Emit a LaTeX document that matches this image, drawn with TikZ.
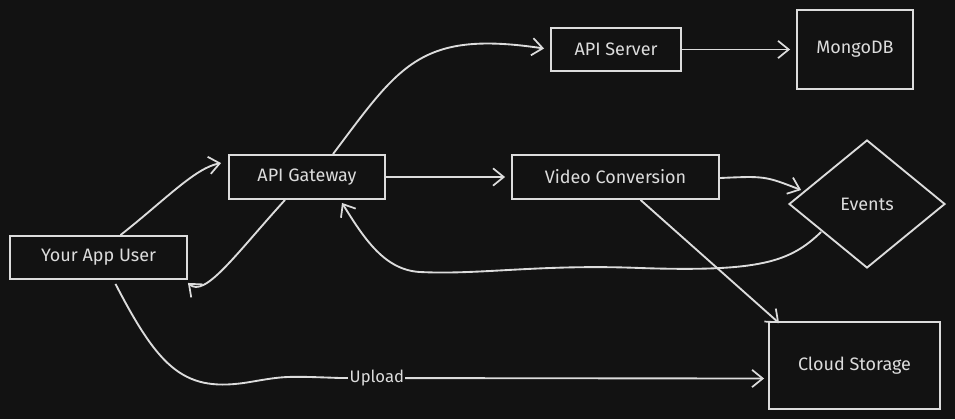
\documentclass[tikz,border=0pt]{standalone}
\usepackage{fontspec}
\setmainfont{Fira Sans}
\usetikzlibrary{arrows.meta,calc,shapes.geometric}
\definecolor{bg}{HTML}{121212}
\definecolor{ink}{HTML}{DCDCDC}
\tikzset{
  box/.style={draw=ink, line width=1.4pt, inner sep=0pt, text=ink, font=\fontsize{13.5}{16}\selectfont},
  conn/.style={draw=ink, line width=1.4pt, -{Straight Barb[length=8pt,width=13pt,line width=1.3pt]}},
}
\begin{document}
\begin{tikzpicture}[x=0.75pt,y=-0.75pt]
\fill[bg] (0,0) rectangle (955,419);
\useasboundingbox (0,0) rectangle (955,419);
\node[box, minimum width=132.75pt, minimum height=32.25pt] (user) at (98.5,257.5) {Your App User};
\node[box, minimum width=117pt, minimum height=33pt] (gw) at (307,177) {API Gateway};
\node[box, minimum width=97.5pt, minimum height=32.25pt] (api) at (616,49.5) {API Server};
\node[box, minimum width=87pt, minimum height=59.25pt] (mongo) at (855,49.5) {MongoDB};
\node[box, minimum width=155.25pt, minimum height=33pt] (video) at (615.5,177) {Video Conversion};
\node[box, diamond, minimum width=117pt, minimum height=96pt] (events) at (867,204) {Events};
\node[box, minimum width=128.25pt, minimum height=65.25pt] (cloud) at (854.5,365.5) {Cloud Storage};

% User -> Gateway
\draw[conn] ($(user.north)+(22,0)$) .. controls (165,200) and (195,168) .. ($(gw.north west)+(-7,9)$);
% Gateway -> User
\draw[conn] ($(gw.south)+(-22,0)$) .. controls (235,255) and (205,298) .. ($(user.south east)+(0,3)$);
% Gateway -> API Server
\draw[conn] ($(gw.north)+(26,0)$) .. controls (400,65) and (420,30) .. ($(api.west)+(-6,-1)$);
% API Server -> MongoDB
\draw[conn] (api.east) -- ($(mongo.west)+(-6,0)$);
% Gateway -> Video Conversion
\draw[conn] (gw.east) -- ($(video.west)+(-6,0)$);
% Video Conversion -> Events
\draw[conn] ($(video.east)+(0,1)$) .. controls (765,176) .. ($(events.west)+(13,-14)$);
% Events -> Gateway
\draw[conn] ($(events.west)+(33,28)$) .. controls (790,262) and (760,272) .. (640,268)
  .. controls (540,264) and (480,275) .. (420,272)
  .. controls (385,270) and (365,240) .. ($(gw.south)+(35,3)$);
% Video Conversion -> Cloud Storage
\draw[conn] ($(video.south)+(25,0)$) -- ($(cloud.north west)+(11,2)$);
% User -> Cloud Storage (Upload)
\draw[conn] ($(user.south)+(17,4)$) .. controls (160,370) and (185,393) .. (250,382)
  .. controls (285,376) .. (340,378)
  -- node[pos=0.087, fill=bg, inner sep=1pt, text=ink, font=\fontsize{12.5}{14}\selectfont] {Upload} ($(cloud.west)+(-4,13)$);
\end{tikzpicture}
\end{document}
